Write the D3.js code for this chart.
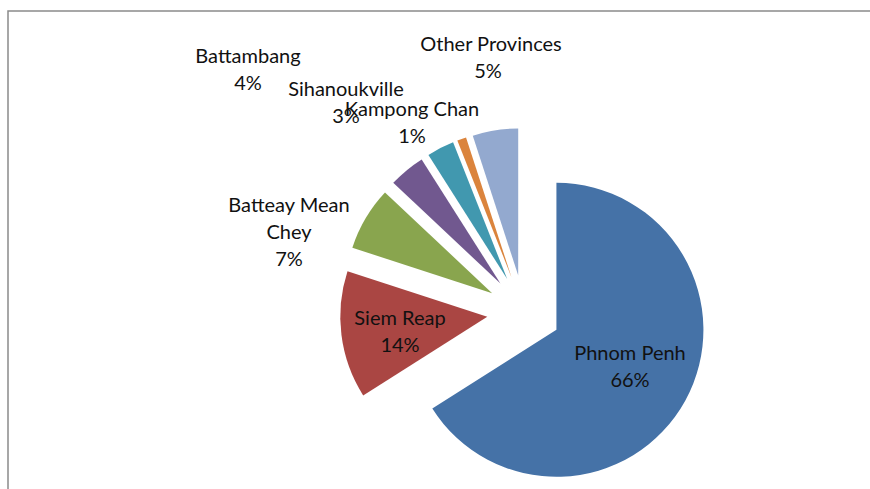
<!DOCTYPE html>
<html>
<head>
<meta charset="utf-8">
<script src="https://cdn.jsdelivr.net/npm/d3@7"></script>
<style>
  body { margin: 0; background: #fff; }
  svg { display: block; }
  text { font-family: Lato, "Open Sans", sans-serif; font-size: 20px; fill: #111; }
</style>
</head>
<body>
<svg id="chart"></svg>
<script>
var width = 870;
var height = 489;

// data
var provinces = ["Phnom Penh", "Siem Reap", "Batteay Mean Chey", "Battambang", "Sihanoukville", "Kampong Chan", "Other Provinces"];
var shares = [66, 14, 7, 4, 3, 1, 5];
var labelLines = [["Phnom Penh"], ["Siem Reap"], ["Batteay Mean", "Chey"], ["Battambang"], ["Sihanoukville"], ["Kampong Chan"], ["Other Provinces"]];
var colors = ["#4572A7", "#AA4643", "#89A54E", "#71588F", "#4198AF", "#DB843D", "#93A9CF"];

// label block centres, relative to the pie centre (layout only)
var labelAt = [[106, 54], [-124, 19], [-235, -80], [-276, -243], [-178, -210], [-112, -190], [-33, -255]];
var pctShift = [0, 0, 0, 0, 0, 0, -3];

var cx = 524, cy = 312, r = 147, explode = 37, lineH = 27;

var svg = d3.select("#chart")
    .attr("width", width)
    .attr("height", height);

svg.append("rect")
    .attr("x", 8)
    .attr("y", 11)
    .attr("width", 900)
    .attr("height", 520)
    .attr("fill", "#fff")
    .attr("stroke", "#8a8a8a")
    .attr("stroke-width", 1.5);

var pie = d3.pie().sort(null).value(d => d)(shares);
var arc = d3.arc().innerRadius(0).outerRadius(r);

var g = svg.append("g").attr("transform", "translate(" + cx + "," + cy + ")");

g.selectAll("path")
    .data(pie)
    .enter()
    .append("path")
    .attr("d", arc)
    .attr("fill", (d, i) => colors[i])
    .attr("transform", function(d) {
        var a = (d.startAngle + d.endAngle) / 2;
        return "translate(" + (Math.sin(a) * explode) + "," + (-Math.cos(a) * explode) + ")";
    });

var labels = g.selectAll("text.lab")
    .data(pie)
    .enter()
    .append("text")
    .classed("lab", true)
    .attr("text-anchor", "middle");

labels.each(function(d, i) {
    var lines = labelLines[i].concat([shares[i] + "%"]);
    var x = labelAt[i][0], y0 = labelAt[i][1] - (lines.length - 1) * lineH / 2 + 7;
    var t = d3.select(this);
    lines.forEach(function(s, j) {
        var last = j == lines.length - 1;
        t.append("tspan")
            .attr("x", x + (last ? pctShift[i] : 0))
            .attr("y", y0 + j * lineH)
            .text(s);
    });
});
</script>
</body>
</html>
